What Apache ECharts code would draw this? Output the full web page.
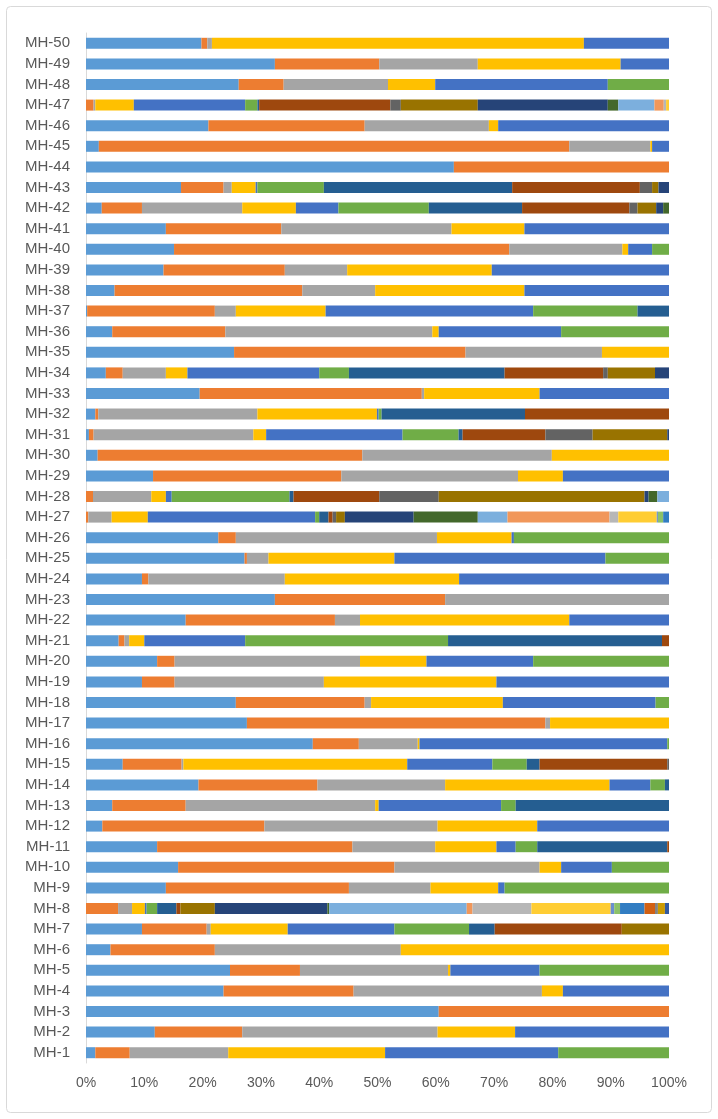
<!DOCTYPE html>
<html>
<head>
<meta charset="utf-8">
<script src="https://cdn.jsdelivr.net/npm/echarts@6/dist/echarts.min.js"></script>
<style>
html,body{margin:0;padding:0;background:#fff;}
#chart{width:718px;height:1119px;}
</style>
</head>
<body>
<div id="chart"></div>
<script>
// Categories, bottom (MH-1) to top (MH-50)
const categories = Array.from({length: 50}, (_, i) => 'MH-' + (i + 1));
const xTickLabels = ['0%','10%','20%','30%','40%','50%','60%','70%','80%','90%','100%'];

// Series values (percent share), ordered MH-1 ... MH-50
const s01 = [1.6,11.8,60.5,23.6,24.7,4.2,9.6,0,13.7,15.8,
             12.2,2.8,4.5,19.3,6.3,38.9,27.6,25.7,9.6,12.2,
             5.6,17.1,32.4,9.6,27.2,22.7,0,0,11.5,2.0,
             0.5,1.6,19.5,3.4,25.4,4.5,0.2,4.9,13.3,15.1,
             13.7,2.7,16.3,63.1,2.2,21.0,0,26.2,32.4,19.8];
const s02 = [5.9,15.0,39.5,22.3,12.0,17.9,11.1,5.5,31.4,37.1,
             33.5,27.8,12.6,20.4,10.1,7.9,51.2,22.1,5.6,3.0,
             1.0,25.6,29.2,1.1,0.4,3.0,0.4,1.2,32.3,45.4,
             0.8,0.5,38.1,2.9,39.7,19.4,21.9,32.2,20.8,57.5,
             19.8,6.9,7.3,36.9,80.7,26.8,1.3,7.7,17.9,1.0];
const s03 = [16.9,33.5,0,32.3,25.4,31.9,0.7,2.4,14.0,24.9,
             14.2,29.7,32.5,21.9,0.3,10.1,0.8,1.1,25.6,31.8,
             0.8,4.3,38.4,23.4,3.7,34.5,4.0,10.0,30.3,32.5,
             27.4,27.3,0.4,7.4,23.4,35.5,3.6,12.5,10.7,19.4,
             29.2,17.2,1.4,0,13.9,21.3,0.3,17.9,16.9,0.8];
const s04 = [26.9,13.3,0,3.6,0.4,46.0,13.2,2.2,11.6,3.7,
             10.5,17.1,0.6,28.2,38.4,0.3,20.4,22.6,29.6,11.4,
             2.6,35.9,0,29.9,21.6,12.8,6.2,2.5,7.7,20.1,
             2.2,20.5,19.8,3.7,11.5,1.1,15.4,25.6,24.8,1.0,
             12.5,9.2,4.1,0,0.3,1.6,6.6,8.1,24.5,63.8];
const s05 = [29.7,26.4,0,18.2,15.3,0,18.3,0.3,1.1,8.7,
             3.3,22.6,21.0,7.0,14.6,42.5,0,26.2,29.6,18.3,
             17.3,17.1,0,36.0,36.2,0.4,28.7,1.0,18.2,0,
             23.4,0.3,22.2,22.6,0,21.0,35.6,24.8,30.4,4.1,
             24.8,7.3,0.3,0,2.9,29.3,19.1,29.6,8.3,14.6];
const s06 = [19.0,0,0,0,22.2,0,12.8,1.8,28.2,9.8,
             3.7,0,2.5,2.5,5.9,0.3,0,2.3,0,23.3,
             34.8,0,0,0,10.9,26.6,0.7,20.2,0,0,
             9.6,0.5,0,5.1,0,18.5,17.9,0,0,2.9,
             0,15.5,11.4,0,0,0,2.1,10.5,0,0];
const s07 = [0,0,0,0,0,0,4.4,3.3,0,0,
             22.3,0,26.3,0.7,2.2,0,0,0,0,0,
             36.7,0,0,0,0,0,1.6,0.7,0,0,
             0.7,24.6,0,26.7,0,0,5.4,0,0,0,
             0,16.0,32.3,0,0,0,0.3,0,0,0];
const s08 = [0,0,0,0,0,0,21.8,0.7,0,0,
             0.3,0,0,0,21.9,0,0,0,0,0,
             1.2,0,0,0,0,0,0.7,14.7,0,0,
             14.2,24.7,0,16.9,0,0,0,0,0,0,
             0,18.4,21.9,0,0,0,22.5,0,0,0];
const s09 = [0,0,0,0,0,0,0,0,0,0,
             0,0,0,0,0.3,0,0,0,0,0,
             0,0,0,0,0,0,0.6,10.2,0,0,
             8.1,0,0,0.8,0,0,0,0,0,0,
             0,1.4,2.1,0,0,0,1.8,0,0,0];
const s10 = [0,0,0,0,0,0,8.1,5.9,0,0,
             0,0,0,0,0,0,0,0,0,0,
             0,0,0,0,0,0,1.5,35.3,0,0,
             12.8,0,0,8.1,0,0,0,0,0,0,
             0,3.2,1.1,0,0,0,13.2,0,0,0];
const s11 = [0,0,0,0,0,0,0,19.3,0,0,
             0,0,0,0,0,0,0,0,0,0,
             0,0,0,0,0,0,11.8,0.7,0,0,
             0.3,0,0,2.4,0,0,0,0,0,0,
             0,1.2,1.8,0,0,0,22.3,0,0,0];
const s12 = [0,0,0,0,0,0,0,0.3,0,0,
             0,0,0,0,0,0,0,0,0,0,
             0,0,0,0,0,0,11.0,1.5,0,0,
             0,0,0,0,0,0,0,0,0,0,
             0,1.0,0,0,0,0,1.8,0,0,0];
const s13 = [0,0,0,0,0,0,0,23.6,0,0,
             0,0,0,0,0,0,0,0,0,0,
             0,0,0,0,0,0,5.1,2.0,0,0,
             0,0,0,0,0,0,0,0,0,0,
             0,0,0,0,0,0,6.2,0,0,0];
const s14 = [0,0,0,0,0,0,0,1.0,0,0,
             0,0,0,0,0,0,0,0,0,0,
             0,0,0,0,0,0,17.5,0,0,0,
             0,0,0,0,0,0,0,0,0,0,
             0,0,0,0,0,0,1.6,0,0,0];
const s15 = [0,0,0,0,0,0,0,10.1,0,0,
             0,0,0,0,0,0,0,0,0,0,
             0,0,0,0,0,0,1.5,0,0,0,
             0,0,0,0,0,0,0,0,0,0,
             0,0,0,0,0,0,0.4,0,0,0];
const s16 = [0,0,0,0,0,0,0,13.6,0,0,
             0,0,0,0,0,0,0,0,0,0,
             0,0,0,0,0,0,6.6,0,0,0,
             0,0,0,0,0,0,0,0,0,0,
             0,0,0,0,0,0,0.5,0,0,0];
const s17 = [0,0,0,0,0,0,0,0.6,0,0, 0,0,0,0,0,0,0,0,0,0, 0,0,0,0,0,0,0.2,0,0,0, 0,0,0,0,0,0,0,0,0,0, 0,0,0,0,0,0,0,0,0,0];
const s18 = [0,0,0,0,0,0,0,1.0,0,0, 0,0,0,0,0,0,0,0,0,0, 0,0,0,0,0,0,0.9,0,0,0, 0,0,0,0,0,0,0,0,0,0, 0,0,0,0,0,0,0,0,0,0];
const s19 = [0,0,0,0,0,0,0,4.2,0,0, 0,0,0,0,0,0,0,0,0,0, 0,0,0,0,0,0,1.0,0,0,0, 0,0,0,0,0,0,0,0,0,0, 0,0,0,0,0,0,0,0,0,0];
const s20 = [0,0,0,0,0,0,0,1.8,0,0, 0,0,0,0,0,0,0,0,0,0, 0,0,0,0,0,0,0,0,0,0, 0,0,0,0,0,0,0,0,0,0, 0,0,0,0,0,0,0,0,0,0];
const s21 = [0,0,0,0,0,0,0,0.5,0,0, 0,0,0,0,0,0,0,0,0,0, 0,0,0,0,0,0,0,0,0,0, 0,0,0,0,0,0,0,0,0,0, 0,0,0,0,0,0,0,0,0,0];
const s22 = [0,0,0,0,0,0,0,1.2,0,0, 0,0,0,0,0,0,0,0,0,0, 0,0,0,0,0,0,0,0,0,0, 0,0,0,0,0,0,0,0,0,0, 0,0,0,0,0,0,0,0,0,0];
const s23 = [0,0,0,0,0,0,0,0.7,0,0, 0,0,0,0,0,0,0,0,0,0, 0,0,0,0,0,0,0,0,0,0, 0,0,0,0,0,0,0,0,0,0, 0,0,0,0,0,0,0,0,0,0];

const seriesValues = [s01,s02,s03,s04,s05,s06,s07,s08,s09,s10,s11,s12,
                      s13,s14,s15,s16,s17,s18,s19,s20,s21,s22,s23];
const palette = ['#5B9BD5','#ED7D31','#A5A5A5','#FFC000','#4472C4','#70AD47',
                 '#255E91','#9E480E','#636363','#997300','#264478','#43682B',
                 '#7CAFDD','#F1975A','#B7B7B7','#FFCD33','#698ED0','#8CC168',
                 '#327DC2','#D26012','#848484','#CC9A00','#335AA1'];

// 100% stacked: normalise each category to its total
const totals = categories.map((_, i) => seriesValues.reduce((a, s) => a + s[i], 0));

const FONT = '"Liberation Sans", Arial, sans-serif';
const chart = echarts.init(document.getElementById('chart'), null, {renderer: 'canvas'});
chart.setOption({
  animation: false,
  backgroundColor: '#ffffff',
  graphic: [{
    type: 'rect', silent: true,
    shape: {x: 6.5, y: 6.5, width: 705, height: 1106, r: 4},
    style: {fill: 'none', stroke: '#D9D9D9', lineWidth: 1}
  }],
  grid: {left: 86, right: 49, top: 33, bottom: 56, containLabel: false},
  xAxis: {
    type: 'value', min: 0, max: 100, interval: 10,
    axisLine: {show: false}, axisTick: {show: false}, splitLine: {show: false},
    axisLabel: {
      color: '#595959', fontSize: 14, fontFamily: FONT, margin: 13,
      formatter: v => xTickLabels[Math.round(v / 10)]
    }
  },
  yAxis: {
    type: 'category', data: categories,
    axisLine: {show: true, lineStyle: {color: '#D9D9D9', width: 1}},
    axisTick: {show: false},
    axisLabel: {color: '#595959', fontSize: 15, fontFamily: FONT, margin: 16, interval: 0}
  },
  series: seriesValues.map((vals, k) => ({
    type: 'bar', stack: 'total', barWidth: 11,
    itemStyle: {color: palette[k]},
    data: vals.map((v, i) => v / totals[i] * 100)
  }))
});
</script>
</body>
</html>
